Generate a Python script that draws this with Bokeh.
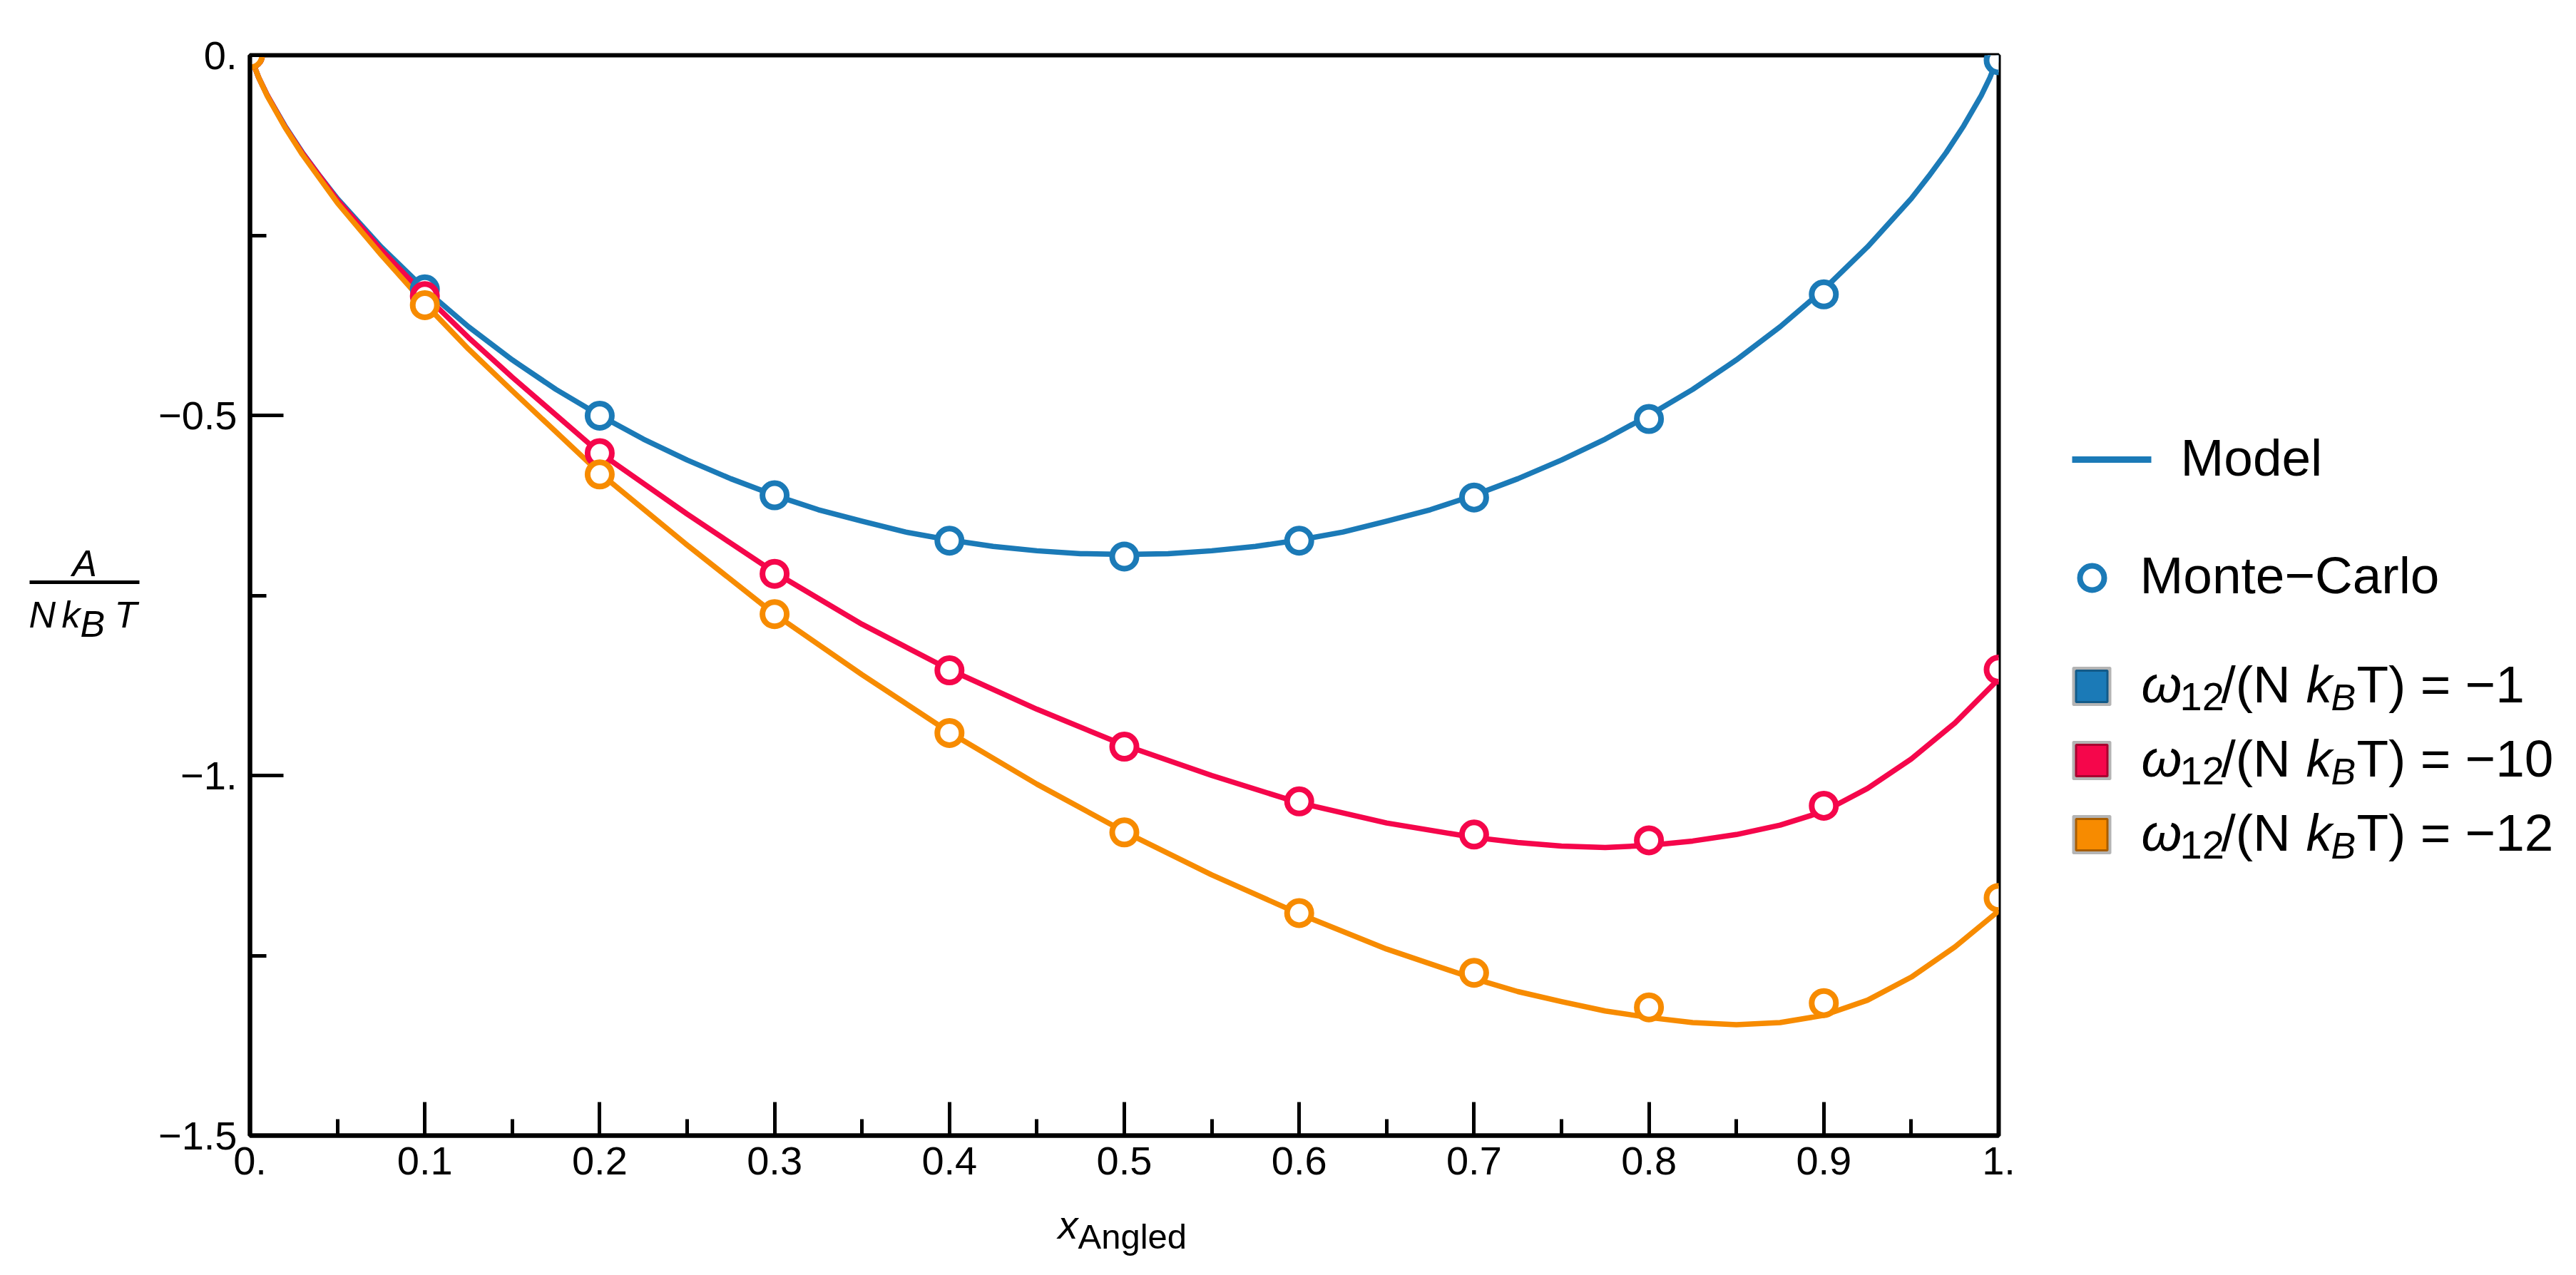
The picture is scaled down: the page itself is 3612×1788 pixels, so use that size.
from bokeh.plotting import figure
from bokeh.models import FixedTicker, Range1d, Label
from bokeh.layouts import row
from bokeh.core.properties import value
from bokeh.embed import file_html
from bokeh.resources import INLINE

# ---------------- data ----------------
mc_x = [0.0, 0.1, 0.2, 0.3, 0.4, 0.5, 0.6, 0.7, 0.8, 0.9, 1.0]
mc_w1 = [0.0, -0.325, -0.5005, -0.611, -0.674, -0.696, -0.674, -0.614, -0.505, -0.332, -0.007]
mc_w10 = [0.0, -0.3345, -0.5525, -0.720, -0.854, -0.960, -1.036, -1.082, -1.090, -1.042, -0.853]
mc_w12 = [0.0, -0.347, -0.582, -0.776, -0.941, -1.079, -1.191, -1.274, -1.322, -1.316, -1.170]

model_x_w1 = [0.0, 0.005, 0.01, 0.02, 0.03, 0.04, 0.05, 0.075, 0.1, 0.125, 0.15, 0.175, 0.2,
              0.225, 0.25, 0.275, 0.3, 0.325, 0.35, 0.375, 0.4, 0.425, 0.45, 0.475, 0.5,
              0.525, 0.55, 0.575, 0.6, 0.625, 0.65, 0.675, 0.7, 0.725, 0.75, 0.775, 0.8,
              0.825, 0.85, 0.875, 0.9, 0.925, 0.95, 0.96, 0.97, 0.98, 0.99, 0.995, 1.0]
model_w1 = [0.0, -0.031, -0.056, -0.098, -0.135, -0.168, -0.199, -0.266, -0.325, -0.377,
            -0.423, -0.464, -0.500, -0.533, -0.562, -0.588, -0.611, -0.631, -0.647, -0.662,
            -0.673, -0.682, -0.688, -0.692, -0.693, -0.692, -0.688, -0.682, -0.673, -0.662,
            -0.647, -0.631, -0.611, -0.588, -0.562, -0.533, -0.500, -0.464, -0.423, -0.377,
            -0.325, -0.266, -0.199, -0.168, -0.135, -0.098, -0.056, -0.031, 0.0]

model_x = [0.0, 0.005, 0.01, 0.02, 0.03, 0.05, 0.075, 0.1, 0.125, 0.15, 0.2, 0.25, 0.3, 0.35,
           0.4, 0.45, 0.5, 0.55, 0.6, 0.65, 0.7, 0.725, 0.75, 0.775, 0.8, 0.825, 0.85, 0.875,
           0.9, 0.925, 0.95, 0.975, 1.0]
model_w10 = [0.0, -0.031, -0.056, -0.099, -0.136, -0.201, -0.270, -0.333, -0.392, -0.447,
             -0.552, -0.637, -0.718, -0.790, -0.853, -0.908, -0.958, -1.000, -1.038, -1.066,
             -1.086, -1.093, -1.098, -1.100, -1.097, -1.091, -1.082, -1.069, -1.050, -1.018,
             -0.977, -0.927, -0.866]
model_w12 = [0.0, -0.031, -0.057, -0.100, -0.138, -0.205, -0.277, -0.345, -0.408, -0.466,
             -0.580, -0.680, -0.776, -0.860, -0.940, -1.012, -1.078, -1.138, -1.192, -1.241,
             -1.282, -1.300, -1.314, -1.327, -1.336, -1.343, -1.346, -1.343, -1.333, -1.312,
             -1.280, -1.238, -1.188]

series_colors = ["#1b7ab7", "#f5064b", "#f78b00"]
series_dark = ["#135a88", "#a8002f", "#a85d00"]
legend_labels = ["\u22121", "\u221210", "\u221212"]

x_ticks = [0.0, 0.1, 0.2, 0.3, 0.4, 0.5, 0.6, 0.7, 0.8, 0.9, 1.0]
x_tick_labels = ["0.", "0.1", "0.2", "0.3", "0.4", "0.5", "0.6", "0.7", "0.8", "0.9", "1."]
x_minor = [0.05, 0.15, 0.25, 0.35, 0.45, 0.55, 0.65, 0.75, 0.85, 0.95]
y_ticks = [-1.5, -1.0, -0.5, 0.0]
y_tick_labels = ["\u22121.5", "\u22121.", "\u22120.5", "0."]
y_minor = [-1.25, -0.75, -0.25]

FONT = "Liberation Sans"
TOP, FRAME_H, BOTTOM = 77, 1515, 180
FRAME_B = TOP + FRAME_H

# ---------------- main plot ----------------
p = figure(frame_width=2452, frame_height=FRAME_H, min_border_left=142, min_border_right=58,
           min_border_top=TOP, min_border_bottom=BOTTOM,
           x_range=Range1d(0, 1), y_range=Range1d(-1.5, 0),
           output_backend="svg", toolbar_location=None)
p.xgrid.visible = False
p.ygrid.visible = False
p.outline_line_color = "black"
p.outline_line_width = 6
p.background_fill_color = "white"
p.border_fill_color = "white"

p.xaxis.ticker = FixedTicker(ticks=x_ticks, minor_ticks=x_minor)
p.yaxis.ticker = FixedTicker(ticks=y_ticks, minor_ticks=y_minor)
p.xaxis.major_label_overrides = dict(zip(x_ticks, x_tick_labels))
p.yaxis.major_label_overrides = dict(zip(y_ticks, y_tick_labels))
for ax in (p.xaxis, p.yaxis):
    ax.axis_line_width = 6
    ax.axis_line_color = "black"
    ax.major_tick_in = 47
    ax.major_tick_out = 0
    ax.minor_tick_in = 23
    ax.minor_tick_out = 0
    ax.major_tick_line_width = 5
    ax.minor_tick_line_width = 5
    ax.major_tick_line_color = "black"
    ax.minor_tick_line_color = "black"
    ax.major_label_text_font = FONT
    ax.major_label_text_font_size = "56px"
    ax.major_label_text_color = "black"
p.xaxis.major_label_standoff = 16
p.yaxis.major_label_standoff = 18

model_sets = [(model_x_w1, model_w1), (model_x, model_w10), (model_x, model_w12)]
for (mx, my), c in zip(model_sets, series_colors):
    p.line(mx, my, line_color=c, line_width=7.5, line_join="round")
for my, c in zip([mc_w1, mc_w10, mc_w12], series_colors):
    p.scatter(mc_x, my, marker="circle", size=34, fill_color="white",
              line_color=c, line_width=8)

# x axis label  x_Angled (placed in the bottom panel so it is not clipped)
p.add_layout(Label(x=(1483 - 350) / 2452, y=-(1717 - 77) / 1010, text="x",
                   text_font=FONT, text_font_style="italic", text_font_size="56px",
                   text_baseline="middle", text_align="left", text_color="black"), "below")
p.add_layout(Label(x=(1511 - 350) / 2452, y=-(1733 - 77) / 1010, text="Angled",
                   text_font=FONT, text_font_size="49px",
                   text_baseline="middle", text_align="left", text_color="black"), "below")

def side_fig(x0, x1):
    f = figure(frame_width=x1 - x0, frame_height=FRAME_H, min_border=0,
               x_range=Range1d(x0, x1), y_range=Range1d(FRAME_B, TOP),
               x_axis_type=None, y_axis_type=None,
               output_backend="svg", toolbar_location=None)
    f.outline_line_color = None
    f.xgrid.visible = False
    f.ygrid.visible = False
    return f

def txt(fig, x, y, s, size, italic=False, align="left"):
    fig.text(x=[x], y=[y], text=[s], text_font=value(FONT), text_font_size=value(size),
             text_font_style="italic" if italic else "normal",
             text_baseline="middle", text_align=align, text_color="black")

# ---------------- left: y label ----------------
pl = side_fig(0, 208)
txt(pl, 118, 789, "A", "52px", italic=True, align="center")
pl.segment(x0=[41], y0=[816], x1=[195], y1=[816], line_color="black", line_width=5)
txt(pl, 40, 861, "N", "52px", italic=True)
txt(pl, 86, 861, "k", "52px", italic=True)
txt(pl, 112, 874, "B", "52px", italic=True)
txt(pl, 160, 861, "T", "52px", italic=True)

# ---------------- right: legend ----------------
pr = side_fig(2860, 3596)
pr.segment(x0=[2905], y0=[644], x1=[3016], y1=[644], line_color=series_colors[0],
           line_width=9)
txt(pr, 3057, 641, "Model", "73px")
pr.scatter(x=[2933], y=[810], marker="circle", size=34, fill_color="white",
           line_color=series_colors[0], line_width=8)
txt(pr, 3000, 806, "Monte\u2212Carlo", "73px")

row_centers = [962, 1066, 1170]
for yc, c, cd, lab in zip(row_centers, series_colors, series_dark, legend_labels):
    pr.scatter(x=[2932.5], y=[yc], marker="square", size=52, fill_color="#b4b4b4",
               line_color="#b4b4b4", line_width=3)
    pr.scatter(x=[2932.5], y=[yc], marker="square", size=44, fill_color=c,
               line_color=cd, line_width=3)
    ym = yc - 3.5
    txt(pr, 3002, ym, "\u03c9", "73px", italic=True)
    txt(pr, 3056, ym + 18, "12", "56px")
    txt(pr, 3114, ym, "/(N ", "73px")
    txt(pr, 3233, ym, "k", "73px", italic=True)
    txt(pr, 3268, ym + 19, "B", "52px", italic=True)
    txt(pr, 3304, ym, "T) = " + lab, "73px")

layout = row(pl, p, pr)
open("out.html", "w").write(file_html(layout, INLINE))
